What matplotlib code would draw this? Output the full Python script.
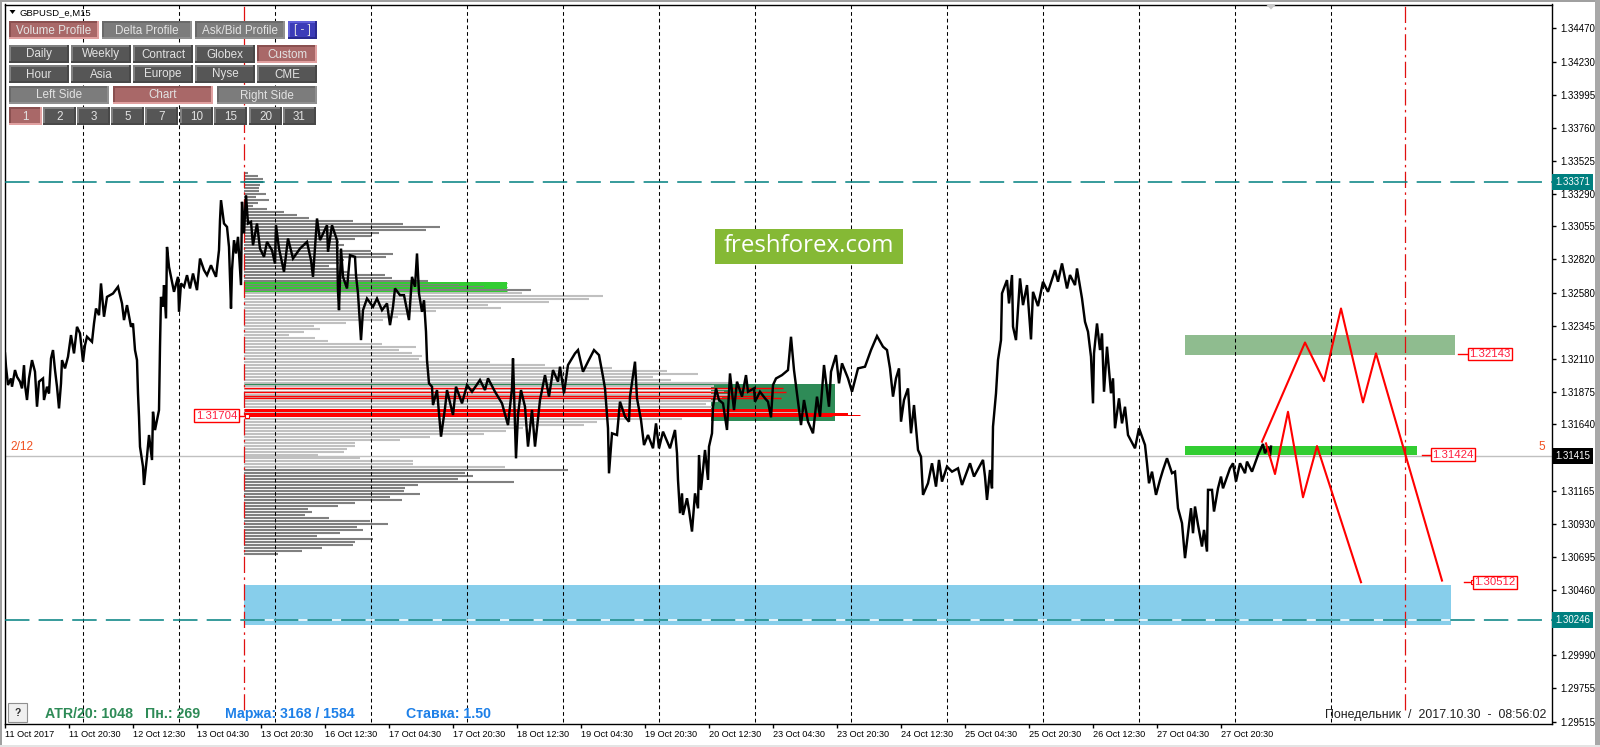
import numpy as np
import matplotlib
matplotlib.use("Agg")
import matplotlib.pyplot as plt
from matplotlib.patches import Rectangle, Polygon

W, H = 1600, 747
plt.rcParams['font.family'] = ['Liberation Sans', 'DejaVu Sans']

# ---------- data: prices are points above 1.30000 (1 point = 0.00001) ----------
BASE = 1.30000
PT = 1e-5

price_bars = [0,1,3,6,7,10,12,15,17,19,20,22,24,27,30,32,34,38,39,42,44,46,48,50,52,54,56,57,60,63,66,69,72,75,78,80,82,87,89,91,94,96,99,102,108,113,117,119,122,126,128,130,132,133,134,135,138,139,142,144,147,148,150,154,155,156,158,159,161,162,164,166,169,173,174,176,179,182,185,188,192,195,199,202,206,208,211,214,215,216,219,222,224,226,227,229,231,233,236,237,239,241,243,
246,248,252,255,259,262,267,270,271,274,279,283,288,295,302,306,308,312,315,322,323,327,332,333,334,336,338,342,345,350,351,353,356,358,362,368,372,377,382,385,388,390,395,399,404,407,410,412,414,417,419,421,422,
424,427,428,432,436,440,442,448,451,457,462,467,475,480,483,490,497,503,507,508,511,513,516,520,523,527,530,535,540,544,548,553,555,559,563,570,573,578,583,589,594,598,600,603,604,607,612,615,620,624,
625,630,632,636,639,643,648,651,654,658,665,670,672,673,675,677,678,682,684,687,690,693,694,696,700,703,704,707,708,711,714,718,722,725,729,732,737,741,743,749,750,755,760,763,766,768,771,777,783,786,789,792,796,799,803,808,812,815,819,824,826,831,834,837,843,847,853,
860,866,872,878,882,885,888,891,894,896,899,903,906,909,913,916,918,923,927,931,934,937,942,947,953,957,965,969,978,980,982,985,987,988,991,993,996,997,1002,1004,1007,1008,1011,1015,1018,1022,1026,1028,1033,1038,1043,1050,1053,1057,1062,1065,1070,1072,1077,1080,1083,1086,1088,1089,1092,1095,1097,1099,1102,1106,1108,1110,1114,1117,1120,1123,1130,1134,1140,1142,1144,
1147,1151,1155,1158,1162,1167,1170,1173,1177,1180,1183,1186,1188,1190,1193,1197,1199,1202,1203,1207,1209,1213,1216,1218,1225,1228,1231,1235,1240,1242,1247,1253,1258,1260,1263,1265,1266]

price_pts = [2148,2053,1922,1969,1910,2029,1981,1946,1898,2064,1922,1815,1969,2100,2017,1767,1946,1969,1815,1910,1862,2112,2172,2029,1910,1755,1934,2100,2041,2124,2279,2148,2338,2291,2088,2207,2267,2231,2362,2469,2421,2648,2410,2552,2576,2624,2505,2386,2493,2338,2362,2172,2100,1862,1696,1481,1339,1208,1410,1565,1386,1731,1600,1743,2195,2552,2481,2636,2398,2909,2767,2695,2588,2695,2445,2648,2624,2707,2612,2719,2600,2826,2743,2707,2778,2743,2695,2886,3100,3243,3076,3052,2909,2469,2743,2957,2862,2981,2636,3231,3005,3278,3076,
3088,2921,3076,2897,2838,2945,2885,2790,3064,2897,2731,2969,2826,2897,2945,2814,2695,3112,2957,3064,2874,3064,2957,2588,2457,2897,2695,2612,2850,2838,2707,2576,2243,2457,2540,2481,2540,2457,2505,2350,2481,2612,2564,2564,2386,2695,2624,2862,2576,2445,2528,2302,2100,
1934,1910,1779,1886,1553,1755,1886,1708,1910,1791,1922,1874,1958,1886,1970,1874,1791,1636,1898,2112,1398,1708,1886,1767,1482,1744,1482,1815,1993,1839,2029,1946,2053,1863,2065,2148,2172,2017,2089,2172,2136,1982,1898,1613,1291,1577,1565,1803,1696,1660,
1839,2089,1827,1672,1493,1565,1470,1648,1470,1589,1470,1601,1434,1244,1006,1148,994,1113,1029,875,1148,1041,1422,1172,1458,1244,1482,1577,1767,1898,1815,1791,1601,2005,1743,1946,1839,1993,1874,1898,1803,1874,1827,1803,1691,1922,1969,1993,2029,2267,2029,1862,1636,1815,1660,1577,1839,1696,2065,1767,2017,2136,1934,2077,1970,1874,2041,
2053,2172,2272,2196,2172,2041,1839,1970,2041,1660,1815,1898,1577,1779,1458,1410,1137,1220,1363,1196,1387,1232,1339,1303,1327,1208,1363,1268,1387,1268,1101,1315,1184,1625,1863,2101,2243,2577,2672,2505,2708,2339,2243,2684,2493,2636,2248,2588,2486,2660,2588,2743,2660,2791,2612,2708,2636,2755,2541,2374,2303,2124,1791,2148,2362,2172,2291,1874,2196,1863,1970,1613,1827,1648,1767,1565,1470,1613,1494,1363,1220,
1303,1137,1244,1315,1399,1292,1303,1042,935,685,863,1042,863,1054,923,768,887,732,1173,1173,1018,1184,1268,1184,1327,1363,1232,1363,1292,1375,1303,1422,1501,1434,1482,1415,1482]

# Volume profile: one row per price level, top level and step in points
profile_top_pts = 3435
profile_step_pts = 21.43
profile_start_bar = 239
profile_upper = [4,14,19,19,16,15,15,22,12,25,14,9,23,40,53,65,109,159,196,182,135,128,111,95,100,95,127,149,142,100,95,85,93,105,141,148,184,215,240,287]
profile_middle = [278,359,345,305,244,257,192,166,154,139,102,70,76,60,45,71,84,138,172,155,168,178,175,246,301,368,423,454,409,427,486,470,484,480,484,478,474,462,470,553,560,588,438,353,340,279,262,240,186,156,111,111,103,100,74,116,169,169,261]
profile_lower = [324,221,229,214,270,174,161,160,176,146,158,111,94,64,68,61,85,126,144,113,119,96,73,129,111,109,78,58,34]

# key levels / zones (points above BASE; bars)
bid_pts = 1415
resistance_pts, support_pts = 3371, 246
zone_seagreen = dict(bar0=1180, bar1=1450, lo=2136, hi=2279)
zone_lime = dict(bar0=1180, bar1=1412, lo=1422, hi=1486)
zone_sky = dict(bar0=239, bar1=1446, lo=208, hi=494)
zone_poc = dict(bar0=239, bar1=502, lo=2593, hi=2659)
zone_va = dict(bar0=706, bar1=830, lo=1662, hi=1932)

poc_green_pts = [2650, 2619, 2591]
va_green_pts = [1927, 1832]
va_red_levels = [1900, 1872, 1841, 1827]
va_red_ends = [778, 781, 768, 776]
poc_red_levels = [1743, 1714, 1710, 1698]
poc_red_widths = [3.0, 2.0, 1.0, 1.0]
poc_red_ends = [792, 843, 855, 827]

path1_bars = [1257,1300,1319,1336,1358,1371,1437]
path1_pts = [1517,2226,1950,2469,1798,2148,525]
path2_bars = [1261,1270,1283,1298,1312,1356]
path2_pts = [1505,1286,1731,1120,1486,513]

day_line_bars = [78 + 96*i for i in range(14)]
session_line_bars = [239, 1400]

x_tick_labels = ["11 Oct 2017","11 Oct 20:30","12 Oct 12:30","13 Oct 04:30","13 Oct 20:30","16 Oct 12:30","17 Oct 04:30","17 Oct 20:30","18 Oct 12:30","19 Oct 04:30","19 Oct 20:30","20 Oct 12:30","23 Oct 04:30","23 Oct 20:30","24 Oct 12:30","25 Oct 04:30","25 Oct 20:30","26 Oct 12:30","27 Oct 04:30","27 Oct 20:30"]
y_tick_values = [1.34470,1.34230,1.33995,1.33760,1.33525,1.33290,1.33055,1.32820,1.32580,1.32345,1.32110,1.31875,1.31640,1.31405,1.31165,1.30930,1.30695,1.30460,1.30225,1.29990,1.29755,1.29515]
y_tick_labels = ["1.34470","1.34230","1.33995","1.33760","1.33525","1.33290","1.33055","1.32820","1.32580","1.32345","1.32110","1.31875","1.31640","","1.31165","1.30930","1.30695","1.30460","","1.29990","1.29755","1.29515"]

btn_row1 = ["Volume Profile","Delta Profile","Ask/Bid Profile","[ - ]"]
btn_row2 = ["Daily","Weekly","Contract","Globex","Custom"]
btn_row3 = ["Hour","Asia","Europe","Nyse","CME"]
btn_row4 = ["Left Side","Chart","Right Side"]
btn_row5 = ["1","2","3","5","7","10","15","20","31"]

def P(pts):
    return BASE + np.asarray(pts, dtype=float) * PT

# ---------- figure ----------
fig = plt.figure(figsize=(W/100, H/100), dpi=100, facecolor='white')
L, R, T, B = 4.5, 1551.5, 4.5, 724.0
ax = fig.add_axes([L/W, 1-B/H, (R-L)/W, (B-T)/H])
ax.set_xlim(-0.5, 1546.5)
ax.set_ylim(1.29500, 1.34641)
for s in ax.spines.values():
    s.set_linewidth(1.0); s.set_color('black')

# zones
def zone(z, color, zo=1.5):
    ax.add_patch(Rectangle((z['bar0'], P(z['lo'])), z['bar1']-z['bar0'], P(z['hi'])-P(z['lo']),
                           fc=color, ec='none', zorder=zo))
zone(zone_poc, '#32CD32')
zone(zone_va, '#2E8B57')
zone(zone_seagreen, '#8FBC8F')
zone(zone_lime, '#32CD32')
zone(zone_sky, '#87CEEB')

# volume profile
n_u, n_m, n_l = len(profile_upper), len(profile_middle), len(profile_lower)
lev = P(profile_top_pts - profile_step_pts*np.arange(n_u+n_m+n_l))
for rows, vols, col in ((lev[:n_u], profile_upper, '#808080'),
                        (lev[n_u:n_u+n_m], profile_middle, '#C0C0C0'),
                        (lev[n_u+n_m:], profile_lower, '#808080')):
    lc = ax.hlines(rows, profile_start_bar, profile_start_bar+np.array(vols), color=col, lw=1.5, zorder=2)
    lc.set_snap(True)
ax.hlines(P(poc_green_pts), profile_start_bar, zone_poc['bar1'], color='#32CD32', lw=0.8, zorder=2.2)
ax.hlines(P(va_green_pts), profile_start_bar, zone_va['bar0'], color='#2E8B57', lw=0.8, zorder=2.2)
ax.hlines(P(va_red_levels), profile_start_bar, va_red_ends, color='#FF0000', lw=1.0, zorder=2.4)
for lv, e, w in zip(poc_red_levels, poc_red_ends, poc_red_widths):
    ax.hlines(P(lv), profile_start_bar, e, color='#FF0000', lw=w*0.72, zorder=2.4)

# reference lines
ax.axhline(P(bid_pts), color='#C0C0C0', lw=1.0, zorder=1.2)
ax.vlines(day_line_bars, 1.29515, 1.34641, color='black', lw=0.75, linestyles=(0, (3.6, 2.8)), zorder=3)
ax.vlines(session_line_bars, 1.29600, 1.34641, color='#E01010', lw=0.9, linestyles=(0, (13, 3.5, 2, 3.5)), zorder=3)
ax.hlines(P(support_pts), zone_sky['bar0'], zone_sky['bar1'], color='white', lw=1.1, zorder=3.1)
for lv in (resistance_pts, support_pts):
    ax.axhline(P(lv), color='#008080', lw=1.1, linestyle=(0, (16, 6)), zorder=3.2)

# price
ax.plot(price_bars, P(price_pts), color='black', lw=1.75, solid_joinstyle='miter', zorder=4)

# forecast paths
ax.plot(path1_bars, P(path1_pts), color='#FF0000', lw=1.5, zorder=5)
ax.plot(path2_bars, P(path2_pts), color='#FF0000', lw=1.5, zorder=5)

# boxed red labels
def boxed(txt, pts, xc, lead0, lead1, square=False):
    ax.plot([lead0, lead1], [P(pts)]*2, color='#FF0000', lw=1, zorder=5)
    if square:
        ax.plot([lead1-1], [P(pts)], marker='s', ms=3, mfc='white', mec='#FF0000', mew=0.8, zorder=6)
    ax.text(xc, P(pts), txt, color='#FF2040', fontsize=8.2, ha='center', va='center', zorder=6,
            bbox=dict(fc='white', ec='#FF0000', lw=1.0, boxstyle='square,pad=0.12'))
boxed("1.32143", 2143, 1485, 1453, 1463)
boxed("1.31424", 1424, 1448, 1417, 1428)
boxed("1.30512", 512, 1490, 1459, 1469, True)
boxed("1.31704", 1704, 211.5, 233, 243, True)

# ticks
ax.set_xticks([64*i for i in range(len(x_tick_labels))])
ax.set_xticklabels(x_tick_labels, ha='left', fontsize=6.6)
ax.tick_params(axis='x', length=3, width=1, pad=1.5)
ax.yaxis.tick_right()
ax.set_yticks(y_tick_values)
ax.set_yticklabels(y_tick_labels, fontsize=7.0)
ax.tick_params(axis='y', length=3, width=1, pad=3)

# price boxes on the scale
for lv, txt, col in ((resistance_pts, "1.33371", '#008080'), (support_pts, "1.30246", '#008080'), (bid_pts, "1.31415", 'black')):
    ax.annotate(txt, xy=(1.0, P(lv)), xycoords=('axes fraction', 'data'), xytext=(2.6, 0),
                textcoords='offset points', color='white', fontsize=7.0, va='center', ha='left', zorder=8,
                annotation_clip=False,
                bbox=dict(fc=col, ec=col, lw=0, boxstyle='square,pad=0.3'))

# ---------- overlay in pixel space (window furniture and buttons) ----------
ov = fig.add_axes([0, 0, 1, 1], facecolor='none')
ov.set_xlim(0, W); ov.set_ylim(H, 0); ov.axis('off'); ov.set_zorder(10)

ov.add_patch(Rectangle((0, 0), W, 1.5, fc='#A0A0A0', ec='none'))
ov.add_patch(Rectangle((0, 0), 1.5, H, fc='#A0A0A0', ec='none'))
ov.add_patch(Rectangle((1595, 0), 5, H, fc='#A8A8A8', ec='none'))
ov.add_patch(Rectangle((0, 745), W, 2, fc='#E4E4E4', ec='none'))
ov.add_patch(Polygon([[1266, 4.5], [1276, 4.5], [1271, 9.5]], fc='#C8C8C8', ec='none'))

ov.add_patch(Polygon([[9.5, 10], [15.5, 10], [12.5, 14]], fc='black', ec='none'))
ov.text(20, 12.5, "GBPUSD_e,M15", fontsize=6.8, va='center', color='black')

STY = {
    'dark': ('#565656', '#808080', '#484848'),
    'gray': ('#7C7C7C', '#6A6A6A', '#909090'),
    'act':  ('#A96868', '#8A5050', '#E0A0A0'),
    'blue': ('#3C3CB8', '#6060D8', '#2A2A90'),
}
def button(x0, x1, y0, y1, txt, sty):
    fill, tl, br = STY[sty]
    ov.add_patch(Rectangle((x0, y0), x1-x0, y1-y0, fc=fill, ec='none'))
    ov.add_patch(Rectangle((x0, y0), x1-x0, 2, fc=tl, ec='none'))
    ov.add_patch(Rectangle((x0, y0), 2, y1-y0, fc=tl, ec='none'))
    ov.add_patch(Rectangle((x0, y1-2), x1-x0, 2, fc=br, ec='none'))
    ov.add_patch(Rectangle((x1-2, y0), 2, y1-y0, fc=br, ec='none'))
    ov.text((x0+x1)/2, (y0+y1)/2+0.5, txt, fontsize=8.4, color='#E2E2E2', ha='center', va='center')

for t, (a, b), s in zip(btn_row1, [(9, 99), (102, 192), (195, 285), (288, 317)], ['act', 'gray', 'gray', 'blue']):
    button(a, b, 21, 39, t, s)
for i, t in enumerate(btn_row2):
    a = [9, 71, 133, 195, 257][i]
    button(a, a+60, 45, 63, t, 'act' if t == "Custom" else 'dark')
for i, t in enumerate(btn_row3):
    a = [9, 71, 133, 195, 257][i]
    button(a, a+60, 65, 83, t, 'dark')
for t, a, s in zip(btn_row4, [9, 113, 217], ['gray', 'act', 'gray']):
    button(a, a+100, 86, 104, t, s)
for t, a in zip(btn_row5, [9, 43, 77, 111, 145, 180, 214, 249, 283]):
    button(a, a+33, 107, 125, t, 'act' if t == "1" else 'dark')

# freshforex plate
ov.add_patch(Rectangle((715, 229), 188, 35, fc='#85B935', ec='none'))
ov.text(809, 246, "freshforex.com", fontsize=17.3, color='white', ha='center', va='center', family=['Open Sans', 'DejaVu Sans'])

# bottom info
ov.add_patch(Rectangle((8, 703), 19, 19, fc='#F0F0F0', ec='#909090', lw=0.8))
ov.text(17.5, 712.5, "?", fontsize=7.5, fontweight='bold', color='#303030', ha='center', va='center')
ov.text(45, 714, "ATR/20: 1048", fontsize=10.2, fontweight='bold', color='#2E8B57', va='center')
ov.text(145, 714, "Пн.: 269", fontsize=10.2, fontweight='bold', color='#2E8B57', va='center')
ov.text(225, 714, "Маржа: 3168 / 1584", fontsize=10.2, fontweight='bold', color='#1E80E8', va='center')
ov.text(406, 714, "Ставка: 1.50", fontsize=10.2, fontweight='bold', color='#1E80E8', va='center')
ov.text(1546, 715, "Понедельник  /  2017.10.30  -  08:56:02", fontsize=8.9, color='#202020', ha='right', va='center')
ov.text(10, 447, "2/12", fontsize=8.6, color='#F05020', va='center')
ov.text(1542, 447, "5", fontsize=8.6, color='#F05020', va='center', ha='center')

fig.savefig("out.png", dpi=100, facecolor='white')
